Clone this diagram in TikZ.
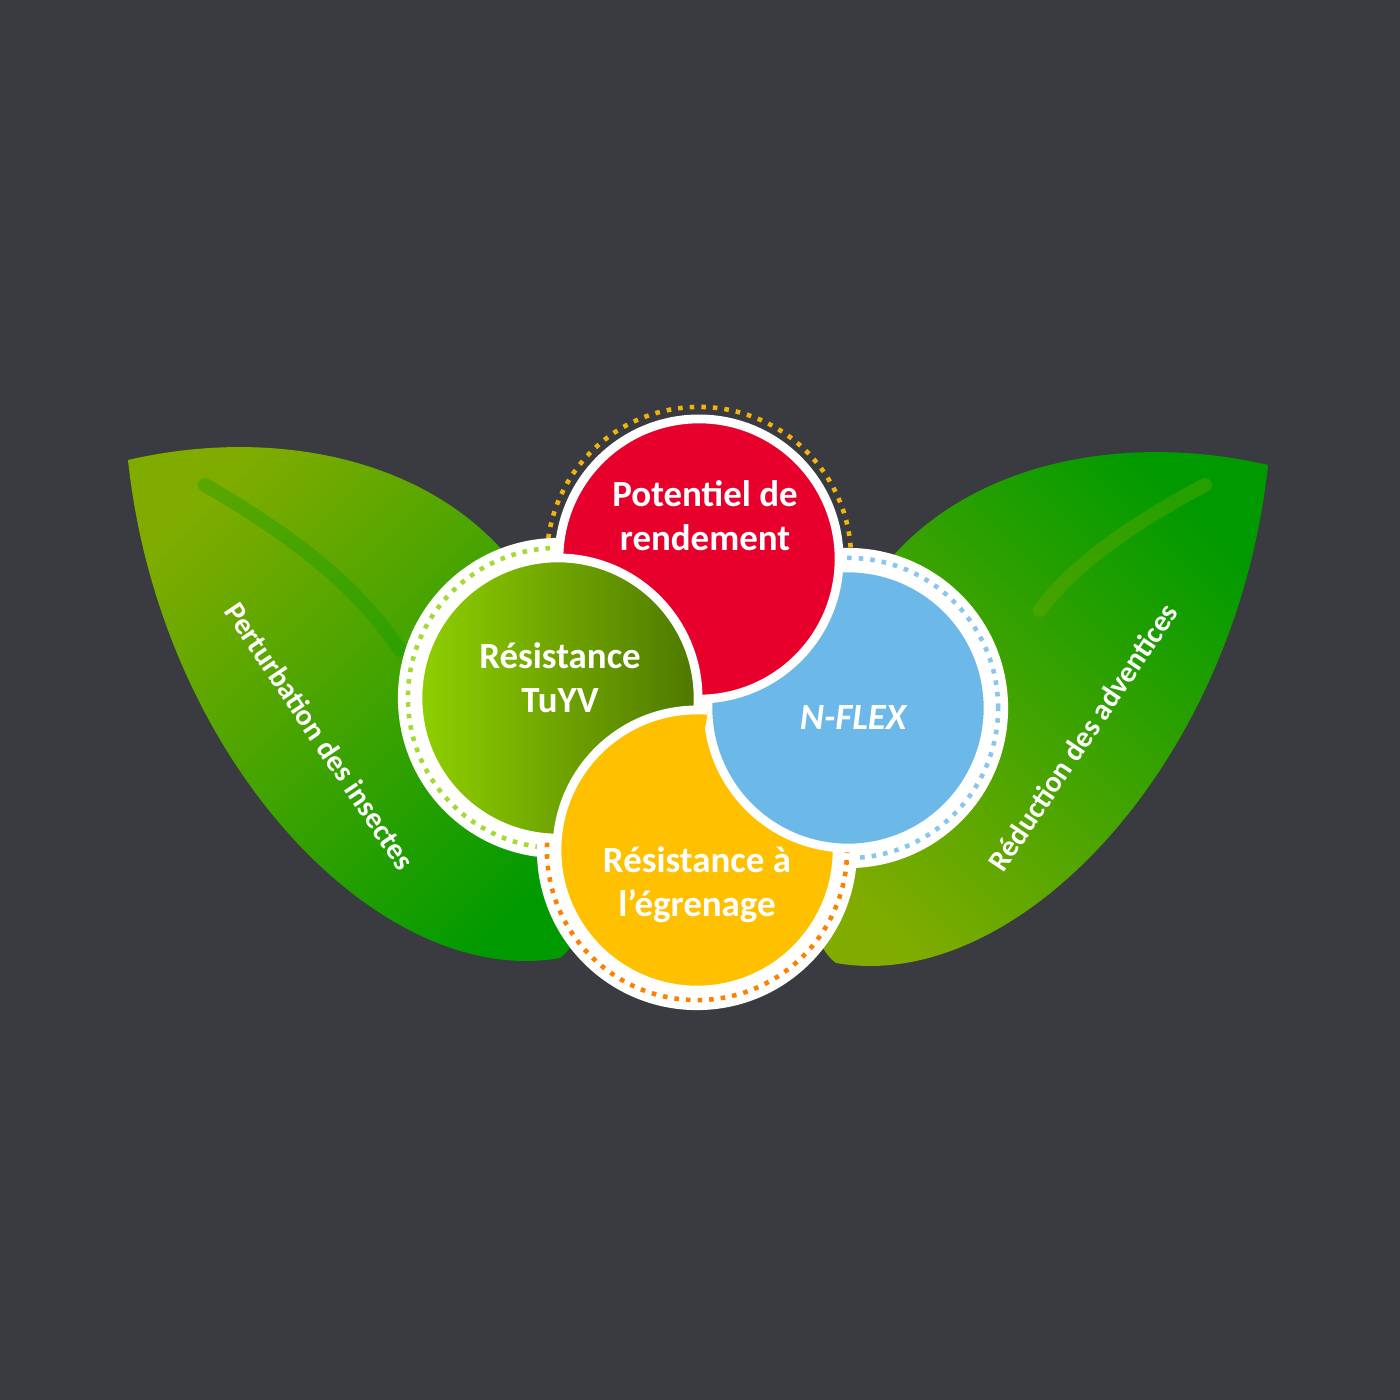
\documentclass[tikz,border=0pt]{standalone}
\usepackage{fontspec}
\setmainfont{Carlito}
\definecolor{bgc}{HTML}{3A3B40}
\definecolor{leafA}{HTML}{80AC00}
\definecolor{leafB}{HTML}{009A00}
\definecolor{redc}{HTML}{E8002D}
\definecolor{bluec}{HTML}{6CB8E8}
\definecolor{yellowc}{HTML}{FFC000}
\definecolor{greenA}{HTML}{8FD000}
\definecolor{greenB}{HTML}{4E7800}
\tikzset{
  circ/.style={draw=white,line width=2.5pt},
  band/.style={fill=white},
  dots/.style={dotted,line width=1.3pt},
  lbl/.style={text=white,font=\bfseries\fontsize{10.5}{12.5}\selectfont,align=center},
  leaflbl/.style={text=white,font=\bfseries\fontsize{8.5}{10}\selectfont}
}
\begin{document}
\begin{tikzpicture}[x=0.01cm,y=-0.01cm]
  \fill[bgc] (0,0) rectangle (1400,1400);
  % leaves
  \shade[top color=leafA,bottom color=leafB,shading angle=45]
    (128,460) .. controls (300,420) and (500,470) .. (560,650)
    .. controls (600,800) and (600,930) .. (560,958)
    .. controls (380,990) and (160,760) .. (128,460);
  \shade[top color=leafB,bottom color=leafA,shading angle=-45]
    (1268,465) .. controls (1096,425) and (896,475) .. (836,655)
    .. controls (796,805) and (796,935) .. (836,963)
    .. controls (1016,995) and (1236,765) .. (1268,465);
  \draw[leafB,opacity=0.3,line width=4pt,line cap=round]
    (205,485) .. controls (300,540) and (360,590) .. (400,650);
  \draw[leafA,opacity=0.3,line width=4pt,line cap=round]
    (1205,485) .. controls (1120,530) and (1070,570) .. (1040,610);
  \node[leaflbl,rotate=-56] (insect) at (320,736) {Perturbation des insectes};
  \node[leaflbl,rotate=56] (advent) at (1083,737) {Réduction des adventices};
  % outer bands
  \draw[dots,draw=yellowc!80!brown] (699,559) circle[radius=1.52cm];
  \fill[band] (558,698) circle[radius=1.6cm];
  \draw[dots,draw=greenA!80!white] (558,698) circle[radius=1.5cm];
  \fill[band] (848,708) circle[radius=1.6cm];
  \draw[dots,draw=bluec!80!white] (848,708) circle[radius=1.5cm];
  \fill[band] (697,850) circle[radius=1.6cm];
  \draw[dots,draw=orange] (697,850) circle[radius=1.5cm];
  % circles
  \draw[circ,fill=yellowc] (697,850) circle[radius=1.4cm];
  \draw[circ,fill=bluec] (848,708) circle[radius=1.4cm];
  \draw[circ,fill=redc] (699,559) circle[radius=1.4cm];
  \draw[circ,left color=greenA,right color=greenB] (558,698) circle[radius=1.4cm];
  \begin{scope}
    \clip (558,698) circle[radius=1.5cm];
    \draw[circ,fill=yellowc] (697,850) circle[radius=1.4cm];
  \end{scope}
  % labels
  \node[lbl] (rend) at (705,516) {Potentiel de\\rendement};
  \node[lbl] (tuyv) at (560,678) {Résistance\\TuYV};
  \node[lbl,font=\bfseries\itshape\fontsize{10.5}{12.5}\selectfont] (nflex) at (853,718) {N-FLEX};
  \node[lbl] (egren) at (697,885) {Résistance à\\l’égrenage};
\end{tikzpicture}
\end{document}
